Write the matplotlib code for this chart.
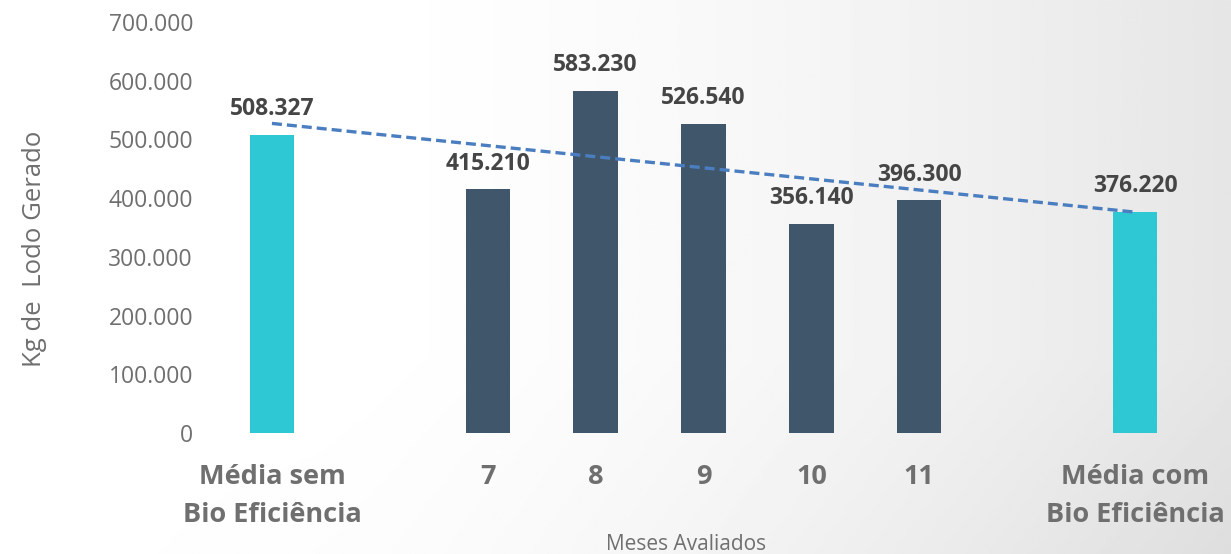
import numpy as np
import matplotlib
matplotlib.use('Agg')
import matplotlib.pyplot as plt

# dados do gráfico
categorias = ['Média sem\nBio Eficiência', '', '7', '8', '9', '10', '11', '', 'Média com\nBio Eficiência']
valores = [508327, None, 415210, 583230, 526540, 356140, 396300, None, 376220]
cores = ['#2ec8d4', None, '#3f566b', '#3f566b', '#3f566b', '#3f566b', '#3f566b', None, '#2ec8d4']
yticks = [0, 100000, 200000, 300000, 400000, 500000, 600000, 700000]

plt.rcParams['font.family'] = ['Open Sans', 'DejaVu Sans']

fig = plt.figure(figsize=(12.31, 5.54), dpi=100)

# fundo em degradê (branco -> cinza claro à direita)
bg = fig.add_axes([0, 0, 1, 1], zorder=0)
gx, gy = np.meshgrid(np.linspace(0, 1, 400), np.linspace(0, 1, 200))
d = np.clip((gx - 0.25) / 0.75, 0, 1) ** 1.6 * 0.10 + np.clip((0.35 - gy) / 0.35, 0, 1) * gx * 0.03
bg.imshow(1 - d, cmap='gray', vmin=0, vmax=1, aspect='auto', extent=[0, 1, 0, 1], origin='lower')
bg.axis('off')

ax = fig.add_axes([218 / 1231, 121 / 554, 971 / 1231, 411 / 554], zorder=1)
ax.patch.set_alpha(0)

x = np.arange(len(categorias))
xs = [i for i, v in zip(x, valores) if v is not None]
ys = [v for v in valores if v is not None]
cs = [c for c in cores if c is not None]

ax.bar(xs, ys, width=0.41, color=cs, zorder=2)

# rótulos de dados
for xi, yi in zip(xs, ys):
    ax.annotate(f'{yi:,.0f}'.replace(',', '.'), (xi, yi), xytext=(0, 18.5), textcoords='offset points',
                ha='center', va='center', fontsize=16.5, fontweight='bold', color='#454545')

# linha de tendência linear (como no Excel)
coef = np.polyfit(xs, ys, 1)
tx = np.array([x[0], x[-1]])
ax.plot(tx, np.polyval(coef, tx), linestyle=(0, (3, 1.5)), color='#4a7ec0', linewidth=2.4, zorder=3)

ax.set_xlim(-0.5, len(categorias) - 0.5)
ax.set_ylim(0, 700000)
ax.set_yticks(yticks)
ax.set_yticklabels([f'{t:,.0f}'.replace(',', '.') for t in yticks], fontsize=16.5, color='#6f6f6f')
ax.set_xticks(x)
ax.set_xticklabels(categorias, fontsize=19.5, fontweight='bold', color='#6f6f6f', linespacing=1.62)
ax.tick_params(axis='both', length=0)
ax.tick_params(axis='y', pad=18)
ax.tick_params(axis='x', pad=22)
for s in ax.spines.values():
    s.set_visible(False)

fig.text(35 / 1231, 1 - 249 / 554, 'Kg de  Lodo Gerado', rotation=90, ha='center', va='center',
         fontsize=18.5, color='#6f6f6f')
fig.text(686 / 1231, 1 - 544 / 554, 'Meses Avaliados', ha='center', va='center',
         fontsize=15, color='#6f6f6f')

fig.savefig('out.png', dpi=100)
